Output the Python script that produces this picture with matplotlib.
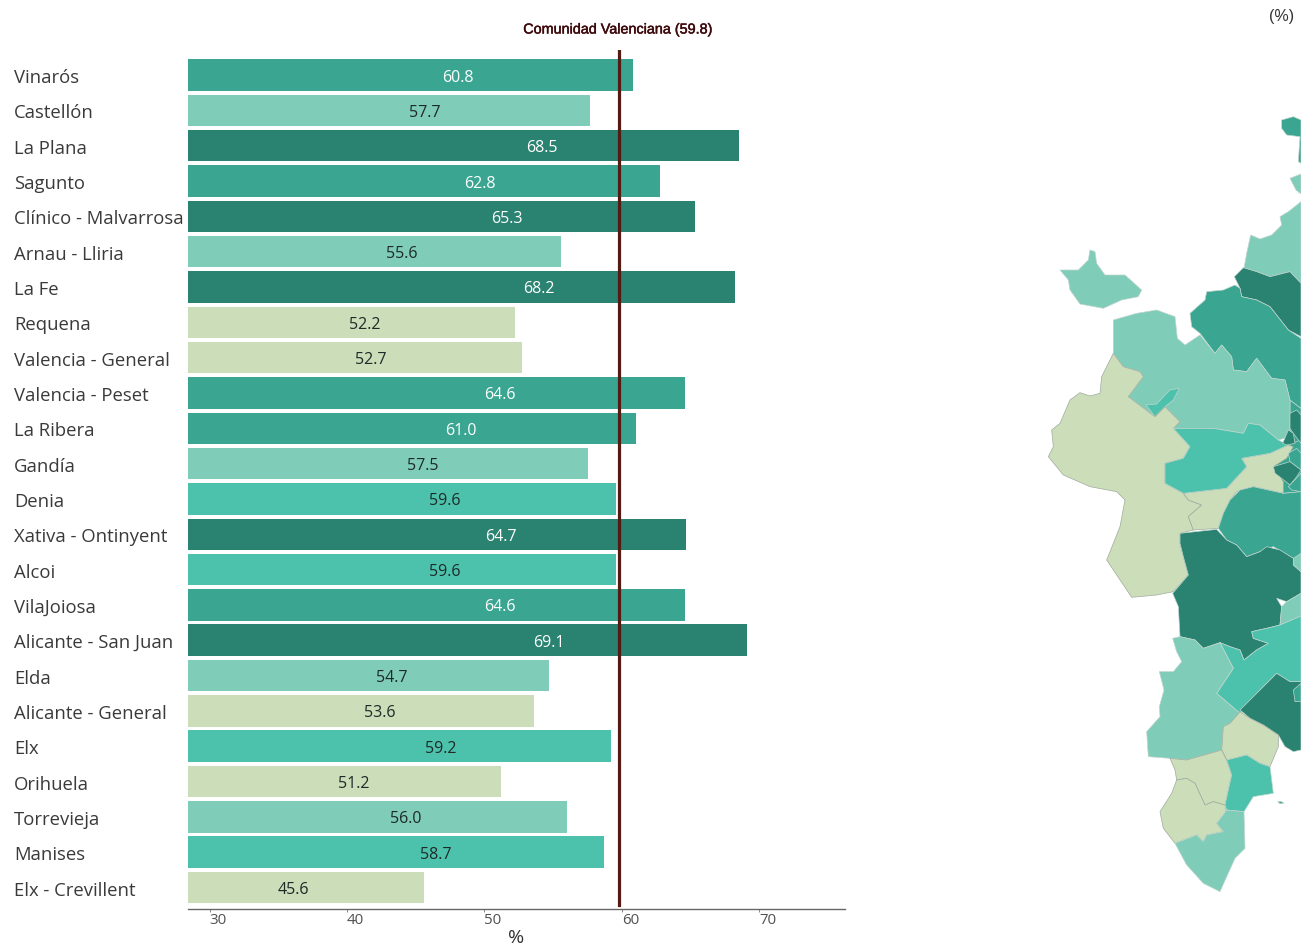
import numpy as np
import matplotlib
matplotlib.use("Agg")
import matplotlib.pyplot as plt
import matplotlib.patheffects as pe
from matplotlib.patches import Polygon

W, H = 1301, 948

departments = ["Vinarós", "Castellón", "La Plana", "Sagunto", "Clínico - Malvarrosa", "Arnau - Lliria",
               "La Fe", "Requena", "Valencia - General", "Valencia - Peset", "La Ribera", "Gandía",
               "Denia", "Xativa - Ontinyent", "Alcoi", "VilaJoiosa", "Alicante - San Juan", "Elda",
               "Alicante - General", "Elx", "Orihuela", "Torrevieja", "Manises", "Elx - Crevillent"]
values = [60.8, 57.7, 68.5, 62.8, 65.3, 55.6, 68.2, 52.2, 52.7, 64.6, 61.0, 57.5,
          59.6, 64.7, 59.6, 64.6, 69.1, 54.7, 53.6, 59.2, 51.2, 56.0, 58.7, 45.6]
regional_mean = 59.8
regional_label = "Comunidad Valenciana (59.8)"
tick_values = [30, 40, 50, 60, 70]
tick_labels = ["30", "40", "50", "60", "70"]

palette = ["#CBDDB9", "#7FCCB8", "#4CC2AC", "#3AA590", "#2A8270"]
bins = [54, 58, 60, 64.65]

# Map regions: (palette class, outline)
regions = [
    (3, [(750,900),(783,925),(783,1060),(728,1030),(750,1010)]),
    (3, [(740,1035),(783,1020),(783,1175),(730,1180),(700,1100)]),
    (3, [(725,60),(760,50),(783,60),(783,190),(775,185),(780,110),(740,105),(725,85)]),
    (1, [(750,235),(783,222),(783,282),(768,270)]),
    (1, [(783,305),(745,335),(720,350),(725,375),(695,405),(660,417),(632,405),(620,460),(612,505),(650,515),(690,530),(750,515),(783,550)]),
    (4, [(583,530),(610,503),(650,515),(690,530),(750,515),(783,550),(783,710),(745,690),(690,620),(650,600),(605,590),(600,565)]),
    (3, [(450,640),(495,600),(500,575),(550,570),(585,555),(600,565),(605,590),(650,600),(690,620),(745,690),(783,715),(783,925),(750,900),(735,840),(695,835),(650,775),(620,815),(580,810),(575,770),(545,735),(525,760),(480,700),(455,680)]),
    (1, [(60,510),(115,510),(145,480),(150,450),(165,455),(170,490),(195,525),(255,525),(305,570),(295,590),(245,600),(190,625),(120,612),(90,570),(85,540)]),
    (1, [(220,660),(290,640),(350,630),(405,650),(412,715),(435,735),(480,705),(525,760),(545,735),(575,770),(580,810),(620,815),(650,775),(695,835),(735,840),(750,900),(750,1010),(715,1020),(660,975),(625,970),(610,1000),(520,985),(480,985),(400,985),(420,965),(375,920),(345,950),(265,890),(310,830),(300,815),(250,800),(220,760)]),
    (2, [(318,915),(350,912),(390,870),(418,865),(400,900),(375,920),(345,950)]),
    (0, [(220,760),(250,800),(300,815),(310,830),(265,890),(345,950),(375,920),(420,965),(400,985),(450,1040),(430,1075),(375,1090),(375,1150),(430,1180),(445,1200),(485,1215),(445,1250),(460,1290),(420,1300),(420,1330),(430,1370),(445,1425),(400,1475),(350,1485),(275,1492),(200,1380),(240,1280),(255,1200),(230,1175),(150,1160),(70,1125),(25,1070),(40,1040),(35,990),(60,970),(90,900),(120,878),(150,888),(180,880),(185,830)]),
    (0, [(430,1180),(560,1165),(620,1100),(605,1075),(690,1060),(745,1035),(760,1040),(740,1075),(700,1100),(730,1145),(730,1180),(640,1160),(590,1175),(570,1200),(550,1240),(535,1285),(460,1290),(445,1250),(485,1215),(445,1200)]),
    (2, [(400,985),(480,985),(520,985),(610,1000),(625,970),(660,975),(715,1020),(745,1035),(690,1060),(605,1075),(620,1100),(560,1165),(430,1180),(375,1150),(375,1090),(430,1075),(450,1040)]),
    (4, [(750,940),(770,930),(783,945),(783,1030),(760,1000),(750,985)]),
    (4, [(728,1030),(745,990),(760,1000),(765,1030),(740,1035)]),
    (3, [(745,1060),(770,1045),(783,1060),(783,1110),(750,1085)]),
    (4, [(700,1100),(750,1085),(783,1110),(770,1130),(750,1155),(725,1135),(705,1120)]),
    (3, [(745,1160),(783,1120),(783,1175),(755,1170)]),
    (3, [(600,1170),(640,1160),(730,1180),(783,1175),(783,1375),(760,1375),(700,1340),(660,1355),(620,1370),(590,1335),(560,1320),(535,1285),(550,1240),(570,1200)]),
    (4, [(420,1300),(530,1288),(560,1320),(590,1335),(620,1370),(660,1355),(680,1340),(720,1350),(760,1375),(760,1395),(783,1415),(783,1480),(740,1505),(710,1495),(725,1520),(720,1575),(680,1585),(635,1595),(640,1615),(685,1630),(650,1650),(612,1680),(600,1650),(570,1640),(540,1628),(490,1645),(465,1620),(420,1610),(415,1520),(398,1480),(445,1425),(430,1370),(420,1330)]),
    (1, [(783,1360),(760,1375),(760,1395),(783,1415)]),
    (1, [(783,1480),(740,1505),(725,1520),(720,1575),(783,1548)]),
    (2, [(783,1548),(720,1575),(680,1585),(635,1595),(640,1615),(685,1630),(650,1650),(612,1680),(600,1650),(570,1640),(540,1628),(580,1705),(530,1780),(600,1840),(660,1770),(710,1720),(750,1745),(783,1745)]),
    (1, [(398,1615),(420,1610),(465,1620),(490,1645),(540,1628),(580,1705),(530,1780),(600,1840),(570,1870),(550,1880),(545,1950),(440,1980),(390,1975),(325,1970),(320,1895),(360,1850),(358,1820),(372,1770),(358,1715),(400,1715),(425,1685),(410,1655)]),
    (4, [(600,1830),(660,1770),(710,1720),(750,1745),(783,1745),(783,1950),(760,1955),(735,1940),(715,1905),(670,1875),(630,1855)]),
    (3, [(760,1770),(783,1750),(783,1805),(765,1805)]),
    (0, [(600,1835),(630,1855),(670,1875),(715,1905),(715,1940),(690,2000),(660,1990),(620,1965),(580,1975),(560,1980),(545,1950),(550,1880),(570,1870)]),
    (0, [(390,1975),(440,1980),(545,1950),(560,1980),(575,2025),(555,2115),(520,2105),(495,2115),(465,2050),(440,2035),(410,2040),(405,2010)]),
    (0, [(410,2040),(440,2035),(465,2050),(495,2115),(520,2105),(555,2115),(560,2140),(530,2170),(550,2195),(500,2205),(490,2225),(470,2205),(405,2230),(370,2185),(360,2135),(395,2080)]),
    (2, [(560,1980),(580,1975),(620,1965),(660,1990),(690,2000),(700,2080),(640,2090),(612,2135),(560,2130),(555,2115),(575,2025)]),
    (1, [(405,2230),(470,2205),(490,2225),(500,2205),(550,2195),(530,2170),(560,2130),(612,2135),(615,2245),(585,2275),(560,2330),(540,2375),(490,2350),(440,2295)]),
    (3, [(713,2105),(725,2105),(732,2110),(720,2111)]),
]

classes = np.digitize(values, bins)
y = np.arange(len(departments))

fig = plt.figure(figsize=(W / 100, H / 100), dpi=100, facecolor="white")
plt.rcParams["font.family"] = ["Open Sans", "DejaVu Sans"]


def frame(x0, y0, x1, y1):
    return [x0 / W, 1 - y1 / H, (x1 - x0) / W, (y1 - y0) / H]


ax = fig.add_axes(frame(188, 50, 845, 909))
ax.set_xlim(28.42, 76.24)
ax.set_ylim(23.61, -0.71)
ax.barh(y, values, height=0.89, color=[palette[c] for c in classes])
ax.axvline(regional_mean, ymin=0.005, ymax=1, color="#541B14", lw=2.3, zorder=4)

for i, (v, c) in enumerate(zip(values, classes)):
    ax.text(36.07 + 0.791 * (v - 45.6), i + 0.07, f"{v:.1f}", ha="center", va="center", fontsize=11.5,
            color="white" if c >= 3 else "#1E2A28", zorder=5)
    ax.text(14 / W, 1 - (78 + 35.33 * i) / H, departments[i], transform=fig.transFigure,
            ha="left", va="center", fontsize=13.3, color="#3A3A3A")

for s in ("top", "left", "right"):
    ax.spines[s].set_visible(False)
ax.spines["bottom"].set_color("#666666")
ax.spines["bottom"].set_linewidth(1)
ax.set_yticks([])
ax.set_xticks(tick_values, tick_labels, ha="left", fontsize=10.8, color="#505050")
ax.tick_params(axis="x", length=2, width=0.7, color="#888888", pad=1, direction="out")

fig.text(516 / W, 1 - 938 / H, "%", ha="center", va="center", fontsize=14, color="#333333")
fig.text(618 / W, 1 - 29.5 / H, regional_label, ha="center", va="center", fontsize=10.35,
         color="#3E0A0C", family=["Liberation Sans"],
         path_effects=[pe.withStroke(linewidth=0.35, foreground="#3E0A0C")])
fig.text(1282 / W, 1 - 17 / H, "(%)", ha="center", va="center", fontsize=11.5, color="#333333",
         family=["Liberation Sans"])

m = fig.add_axes(frame(1040, 100, 1301, 900))
m.set_xlim(0, 783)
m.set_ylim(2400, 0)
m.axis("off")
for c, outline in regions:
    edge = "#9FAB9F" if c == 0 else "#BFD6CE"
    m.add_patch(Polygon(outline, closed=True, facecolor=palette[c], edgecolor=edge, lw=0.5))

fig.savefig("out.png", dpi=100)
